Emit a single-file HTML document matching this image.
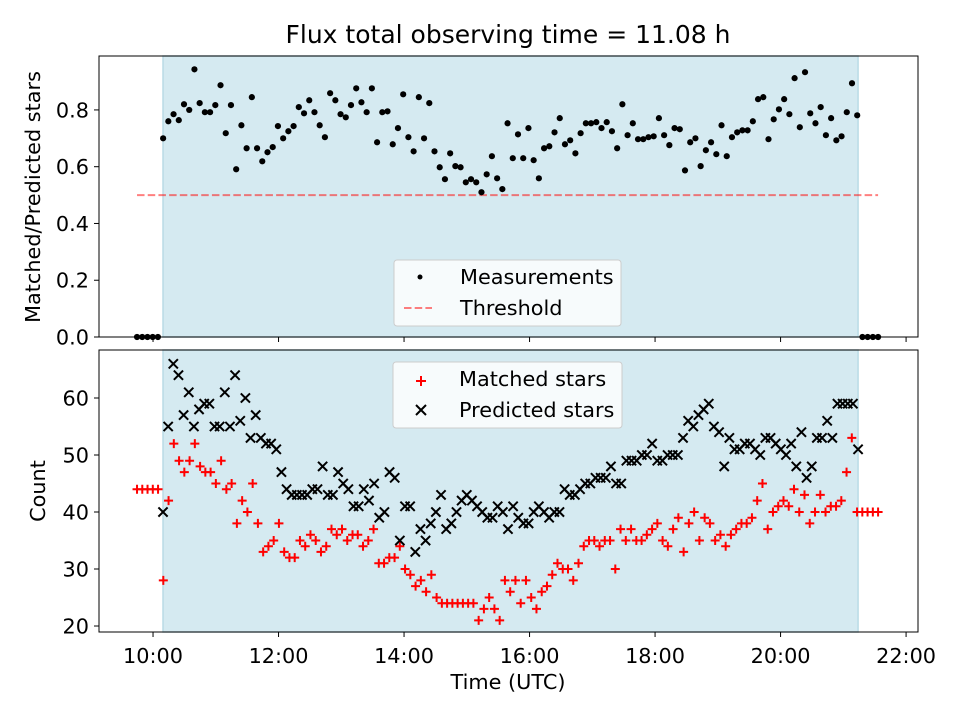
<!DOCTYPE html>
<html><head><meta charset="utf-8"><style>
body{margin:0;background:#fff}
svg text{font-family:"DejaVu Sans","Liberation Sans",sans-serif;fill:#000}
</style></head><body>
<svg id="c" width="960" height="720" viewBox="0 0 960 720"></svg>
<script>
// ----- data -----
const plotTitle = "Flux total observing time = 11.08 h";
const obsStart = 10.159, obsEnd = 21.235;       // observing window (hours UTC)
const fullStart = 9.745, fullEnd = 21.554;      // full sampled range
const threshold = 0.5;
const ratioValues = [0,0,0,0,0,
0.70,0.76,0.785,0.764,0.82,0.80,0.943,0.824,0.792,0.792,0.817,0.887,0.718,0.817,0.591,0.746,0.665,0.845,0.665,0.619,
0.651,0.669,0.743,0.70,0.725,0.743,0.81,0.788,0.834,0.792,0.746,0.704,0.859,0.834,0.785,0.774,0.817,0.876,0.827,0.792,
0.876,0.686,0.792,0.795,0.679,0.736,0.855,0.704,0.654,0.845,0.70,0.824,0.654,0.598,0.556,0.647,0.602,0.598,0.545,0.556,
0.545,0.51,0.573,0.637,0.559,0.521,0.753,0.63,0.714,0.63,0.736,0.623,0.559,0.665,0.672,0.721,0.771,0.679,0.693,0.647,
0.718,0.753,0.753,0.757,0.736,0.757,0.725,0.665,0.82,0.711,0.753,0.697,0.697,0.704,0.707,0.771,0.711,0.676,0.736,0.732,
0.587,0.686,0.70,0.602,0.658,0.686,0.644,0.746,0.637,0.704,0.721,0.728,0.728,0.76,0.838,0.845,0.697,0.767,0.802,0.838,
0.785,0.912,0.739,0.933,0.788,0.753,0.81,0.711,0.771,0.693,0.707,0.792,0.894,0.781,
0,0,0,0];
const matchedValues = [44,44,44,44,44,
28,42,52,49,47,49,52,48,47,47,45,49,44,45,38,42,40,45,38,33,34,35,38,33,32,32,35,34,36,
35,33,34,37,36,37,35,36,36,34,35,37,31,31,32,32,34,30,29,27,28,26,29,25,24,24,24,24,24,24,24,
21,23,25,23,21,28,26,28,24,28,25,23,26,27,29,31,30,30,28,31,34,35,35,34,35,35,30,37,35,37,35,35,36,37,38,
35,34,37,39,33,38,40,35,39,38,35,36,34,36,37,38,38,39,42,45,37,40,41,42,41,44,40,43,38,40,43,40,41,41,42,47,53,
40,40,40,40,40];
const predictedValues = [40,55,66,64,57,61,55,58,59,59,55,55,61,55,64,56,60,53,57,53,52,52,51,47,44,43,43,43,43,44,
44,48,43,43,47,45,44,41,41,44,42,45,39,40,47,46,35,41,41,33,37,35,38,40,43,37,38,40,42,43,42,41,40,39,
39,41,40,37,41,39,38,38,40,41,40,39,40,40,44,43,43,44,45,45,46,46,46,48,45,45,49,49,49,50,50,52,49,49,50,50,
50,53,56,55,57,58,59,55,54,48,53,51,51,52,52,51,50,53,53,52,51,50,52,48,54,46,48,53,53,56,53,59,59,59,59,51];
const xTicks = [10,12,14,16,18,20,22];
const topTicks = [0,0.2,0.4,0.6,0.8];
const botTicks = [20,30,40,50,60];

// ----- axes -----
const NS="http://www.w3.org/2000/svg";
const svg=document.getElementById('c');
const L=99,R=918, T1=56,B1=337, T2=350,B2=632;
const FS='20.8';
const xMin=9.139,xMax=22.19;
const X=h=>L+(h-xMin)/(xMax-xMin)*(R-L);
const Y1=v=>B1-v/0.99*(B1-T1);
const Y2=v=>B2-(v-18.95)/(68.42-18.95)*(B2-T2);
function el(tag,attrs,parent){const e=document.createElementNS(NS,tag);for(const k in attrs)e.setAttribute(k,attrs[k]);(parent||svg).appendChild(e);return e;}
const tOf=(i,n,a,b)=>a+i*(b-a)/(n-1);

// title
const ti=el('text',{x:508,y:43,'text-anchor':'middle','font-size':'25'});ti.textContent=plotTitle;



function panel(T,B,name){
  const g=el('g',{});
  
  
  const sp=el('rect',{x:X(obsStart),y:T,width:X(obsEnd)-X(obsStart),height:B-T,fill:'#d5eaf1',stroke:'#b9dbe6','stroke-width':1.5},g);
  
  
  return g;
}
const g1=panel(T1,B1,'top-panel');
const g2=panel(T2,B2,'bottom-panel');

// threshold
const th=el('line',{x1:X(fullStart),x2:X(fullEnd),y1:Y1(threshold),y2:Y1(threshold),stroke:'#ff0000','stroke-opacity':0.5,'stroke-width':2,'stroke-dasharray':'7.5,3.2'},g1);



// measurements
ratioValues.forEach((v,i)=>{
  const c=el('circle',{cx:X(tOf(i,ratioValues.length,fullStart,fullEnd)),cy:Y1(v),r:3.1,fill:'#000'},g1);
  
  
});
// matched
matchedValues.forEach((v,i)=>{
  const x=X(tOf(i,matchedValues.length,fullStart,fullEnd)),y=Y2(v),s=4.5;
  const p=el('path',{d:`M${x-s},${y}H${x+s}M${x},${y-s}V${y+s}`,stroke:'#ff0000','stroke-width':2},g2);
  
  
});
// predicted
predictedValues.forEach((v,i)=>{
  const x=X(tOf(i,predictedValues.length,obsStart,obsEnd)),y=Y2(v),s=4.6;
  const p=el('path',{d:`M${x-s},${y-s}L${x+s},${y+s}M${x-s},${y+s}L${x+s},${y-s}`,stroke:'#000','stroke-width':2},g2);
  
  
});

// frames and ticks
[[T1,B1],[T2,B2]].forEach(([T,B],k)=>{
  const f=el('rect',{x:L,y:T,width:R-L,height:B-T,fill:'none',stroke:'#000','stroke-width':1});
  
  
  xTicks.forEach(h=>{el('line',{x1:X(h),x2:X(h),y1:B,y2:B+5,stroke:'#000'});});
});
xTicks.forEach(h=>{
  const t=el('text',{x:X(h),y:B2+31,'text-anchor':'middle','font-size':FS});
  t.textContent=(h<10?'0':'')+h+':00';
  
  
});
topTicks.forEach(v=>{
  el('line',{x1:L-5,x2:L,y1:Y1(v),y2:Y1(v),stroke:'#000'});
  const t=el('text',{x:L-10,y:Y1(v)+7.5,'text-anchor':'end','font-size':FS});t.textContent=v.toFixed(1);
  
  
});
botTicks.forEach(v=>{
  el('line',{x1:L-5,x2:L,y1:Y2(v),y2:Y2(v),stroke:'#000'});
  const t=el('text',{x:L-10,y:Y2(v)+7.5,'text-anchor':'end','font-size':FS});t.textContent=v;
  
  
});
const xl=el('text',{x:508,y:689,'text-anchor':'middle','font-size':FS});xl.textContent='Time (UTC)';


const yl1=el('text',{transform:'translate(40,197) rotate(-90)','text-anchor':'middle','font-size':FS});yl1.textContent='Matched/Predicted stars';


const yl2=el('text',{transform:'translate(45,491) rotate(-90)','text-anchor':'middle','font-size':FS});yl2.textContent='Count';



// legends
function legend(x,y,w,h,name){
  const r=el('rect',{x:x,y:y,width:w,height:h,rx:3,fill:'#ffffff','fill-opacity':0.8,stroke:'#cccccc'});
  
  
}
legend(394,260,227,66,'top-legend');
const lc=el('circle',{cx:420,cy:277,r:2.5,fill:'#000'});


const lt1=el('text',{x:460,y:284,'font-size':FS});lt1.textContent='Measurements';


const ll=el('line',{x1:404,x2:432,y1:308,y2:308,stroke:'#ff0000','stroke-opacity':0.5,'stroke-width':2,'stroke-dasharray':'7.5,3.2'});


const lt2=el('text',{x:460,y:315,'font-size':FS});lt2.textContent='Threshold';



legend(393,362,229,66,'bottom-legend');
const lp=el('path',{d:'M416,381H426M421,376V386',stroke:'#ff0000','stroke-width':2});


const lt3=el('text',{x:459,y:386,'font-size':FS});lt3.textContent='Matched stars';


const lx=el('path',{d:'M416,405L426,415M416,415L426,405',stroke:'#000','stroke-width':2});


const lt4=el('text',{x:459,y:417,'font-size':FS});lt4.textContent='Predicted stars';


</script>
</body></html>
